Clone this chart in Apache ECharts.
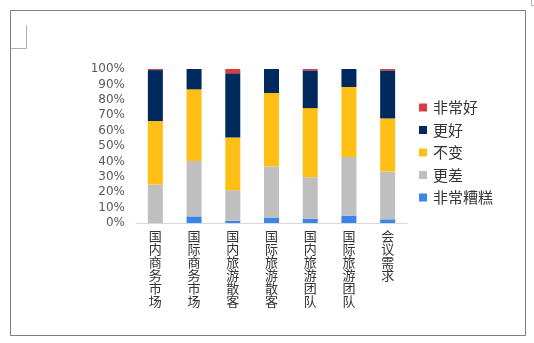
<!DOCTYPE html>
<html>
<head>
<meta charset="utf-8">
<script src="https://cdn.jsdelivr.net/npm/echarts@6/dist/echarts.min.js"></script>
<style>
html,body{margin:0;padding:0;background:#fff;}
#c{width:534px;height:343px;}
</style>
</head>
<body>
<div id="c"></div>
<script>
var categories = ['国内商务市场','国际商务市场','国内旅游散客','国际旅游散客','国内旅游团队','国际旅游团队','会议需求'];
var seriesNames = ['非常糟糕','更差','不变','更好','非常好'];
var veryBad  = [0,   4.3, 1.5, 3.5, 2.8, 4.8, 2.4];
var worse    = [25,  36,  19.8,33.2,26.9,38.1,31];
var same     = [41.2,46.5,34.2,47.7,44.9,45.4,34.5];
var better   = [33.1,13.2,41.7,15.6,24.5,11.7,31.2];
var veryGood = [0.7, 0,   2.8, 0,   0.9, 0,   0.9];
var yTicks = ['0%','10%','20%','30%','40%','50%','60%','70%','80%','90%','100%'];

var colors = ['#3a86e8','#bfbfbf','#ffbf14','#002a5e','#db3b44'];
var dataSets = [veryBad, worse, same, better, veryGood];

var series = dataSets.map(function(d, i){
  return {
    name: seriesNames[i], type: 'bar', stack: 'total', barWidth: 15,
    data: d, itemStyle: {color: colors[i]}
  };
});

var chart = echarts.init(document.getElementById('c'));
chart.setOption({
  animation: false,
  color: colors,
  grid: {left: 136, right: 127, top: 69, bottom: 120},
  legend: {
    orient: 'vertical', left: 414, top: 95, itemWidth: 8, itemHeight: 8,
    itemGap: 7.5, icon: 'rect',
    data: seriesNames.slice().reverse(),
    textStyle: {fontSize: 15, color: '#333333', fontFamily: 'Noto Sans CJK SC', padding: [0,0,0,1]}
  },
  xAxis: {
    type: 'category', data: categories,
    axisLine: {lineStyle: {color: '#d9d9d9'}},
    axisTick: {show: false},
    axisLabel: {
      interval: 0, fontSize: 13, lineHeight: 13, color: '#333333', margin: 7,
      fontFamily: 'Noto Sans CJK SC',
      formatter: function(v){ return v.split('').join('\n'); }
    }
  },
  yAxis: {
    type: 'value', min: 0, max: 100, interval: 10,
    axisLine: {show: false}, axisTick: {show: false}, splitLine: {show: false},
    axisLabel: {
      fontSize: 12, color: '#595959', margin: 11, fontFamily: 'DejaVu Sans',
      formatter: function(v){ return yTicks[Math.round(v/10)]; }
    }
  },
  graphic: [
    {type: 'rect', shape: {x: 10.5, y: 10.5, width: 515, height: 325}, style: {fill: 'none', stroke: '#7f7f7f', lineWidth: 1}, silent: true},
    {type: 'polyline', shape: {points: [[26.5,25],[26.5,48.5],[10.5,48.5]]}, style: {fill: 'none', stroke: '#b0b0b0', lineWidth: 1}, silent: true},
    {type: 'polyline', shape: {points: [[531.5,0],[531.5,5.5],[534,5.5]]}, style: {fill: 'none', stroke: '#b0b0b0', lineWidth: 1}, silent: true}
  ],
  series: series
});
</script>
</body>
</html>
